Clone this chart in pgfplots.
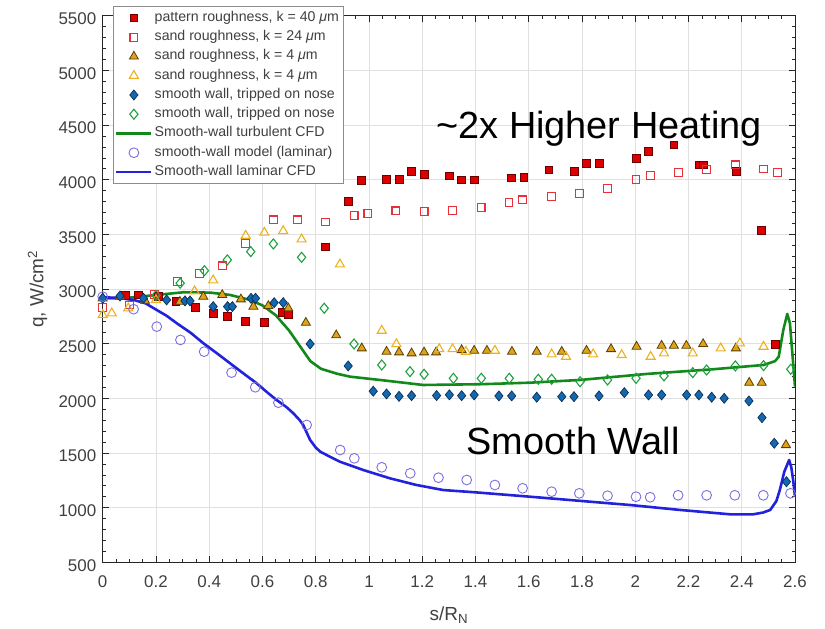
\documentclass[border=0pt]{standalone}
\usepackage{pgfplots}
\pgfplotsset{compat=1.18}
\usepackage{pgfplotstable}
\usepackage{fontspec}
\setmainfont{Liberation Sans}
\definecolor{axgray}{HTML}{262626}
\definecolor{labgray}{HTML}{404040}
\definecolor{gridgray}{HTML}{E0E0E0}
\definecolor{legframe}{HTML}{8C8C8C}
\definecolor{redfill}{HTML}{DC0000}
\definecolor{rededge}{HTML}{6B0000}
\definecolor{redopen}{HTML}{E8303A}
\definecolor{orfill}{HTML}{E0A21A}
\definecolor{oredge}{HTML}{5A4000}
\definecolor{yelopen}{HTML}{EDB120}
\definecolor{bluefill}{HTML}{1468B0}
\definecolor{blueedge}{HTML}{0A2F55}
\definecolor{greenopen}{HTML}{20A040}
\definecolor{greenline}{HTML}{12891A}
\definecolor{circcol}{HTML}{7B6FE0}
\definecolor{blueline}{HTML}{2222DD}

\pgfplotstableread{
s q
0.084 2939
0.134 2946
0.209 2930
0.275 2884
0.347 2829
0.415 2778
0.468 2747
0.537 2701
0.606 2692
0.676 2787
0.697 2769
0.835 3385
0.922 3799
0.973 3991
1.064 4004
1.113 4004
1.160 4074
1.207 4050
1.302 4034
1.347 3998
1.395 3998
1.536 4016
1.582 4022
1.676 4089
1.770 4074
1.817 4151
1.864 4151
2.005 4196
2.050 4260
2.145 4318
2.240 4135
2.256 4135
2.381 4074
2.475 3534
2.526 2494
}\patternrough

\pgfplotstableread{
s q
0.000 2829
0.100 2854
0.195 2950
0.280 3067
0.363 3144
0.451 3211
0.537 3418
0.641 3632
0.731 3632
0.836 3613
0.944 3675
0.996 3693
1.101 3714
1.207 3708
1.314 3717
1.421 3748
1.526 3794
1.577 3815
1.686 3845
1.790 3876
1.896 3922
2.003 4004
2.058 4037
2.163 4065
2.268 4096
2.376 4135
2.482 4098
2.533 4065
}\sandtwentyfour

\pgfplotstableread{
s q
0.000 2915
0.065 2930
0.159 2893
0.290 2884
0.378 2930
0.449 2946
0.519 2906
0.566 2839
0.622 2845
0.697 2824
0.763 2692
0.877 2577
0.973 2458
1.066 2427
1.113 2421
1.160 2412
1.207 2421
1.252 2421
1.348 2442
1.395 2436
1.443 2436
1.537 2427
1.630 2427
1.724 2427
1.817 2436
1.909 2451
2.005 2473
2.099 2482
2.145 2482
2.192 2482
2.255 2497
2.378 2458
2.428 2143
2.475 2143
2.566 1573
}\sandfourA

\pgfplotstableread{
s q
0.000 2763
0.034 2778
0.096 2824
0.200 2900
0.345 2980
0.415 3080
0.537 3488
0.607 3516
0.678 3531
0.747 3455
0.891 3226
1.048 2619
1.103 2497
1.264 2451
1.314 2451
1.364 2427
1.473 2436
1.686 2403
1.740 2381
1.842 2403
1.949 2397
2.058 2381
2.108 2412
2.216 2412
2.321 2458
2.393 2504
2.482 2473
}\sandfourB

\pgfplotstableread{
s q
0.000 2915
0.065 2936
0.153 2915
0.240 2900
0.309 2891
0.328 2891
0.415 2839
0.469 2839
0.487 2839
0.557 2915
0.574 2915
0.644 2875
0.678 2875
0.779 2497
0.922 2296
1.016 2065
1.066 2040
1.113 2018
1.160 2024
1.254 2025
1.302 2032
1.348 2024
1.395 2031
1.488 2022
1.536 2022
1.630 2010
1.724 2015
1.770 2015
1.864 2022
1.959 2052
2.050 2031
2.099 2031
2.193 2031
2.239 2031
2.287 2010
2.334 2000
2.427 1976
2.476 1823
2.522 1589
2.568 1237
}\smoothA

\pgfplotstableread{
s q
0.200 2940
0.291 3053
0.382 3168
0.468 3266
0.556 3342
0.641 3412
0.747 3290
0.832 2824
0.944 2497
1.048 2305
1.154 2244
1.207 2220
1.317 2183
1.422 2183
1.527 2183
1.636 2174
1.686 2174
1.793 2152
1.896 2168
2.003 2183
2.108 2205
2.216 2235
2.268 2259
2.376 2296
2.482 2299
2.584 2266
}\smoothB

\pgfplotstableread{
s q
0.000 2915
0.077 2915
0.203 2946
0.303 2970
0.403 2967
0.478 2946
0.553 2900
0.600 2850
0.650 2760
0.700 2620
0.740 2480
0.780 2340
0.820 2270
0.880 2225
0.929 2198
1.041 2168
1.204 2122
1.417 2129
1.605 2143
1.793 2168
2.043 2223
2.293 2266
2.482 2305
2.525 2340
2.539 2381
2.556 2625
2.571 2772
2.581 2687
2.593 2321
2.600 2107
}\turbcfd

\pgfplotstableread{
s q
0.000 2930
0.116 2815
0.203 2656
0.292 2534
0.381 2427
0.484 2235
0.573 2101
0.660 1960
0.766 1756
0.892 1527
0.945 1451
1.048 1369
1.155 1314
1.261 1274
1.367 1253
1.473 1207
1.577 1177
1.686 1146
1.790 1131
1.896 1109
2.003 1100
2.056 1095
2.161 1113
2.268 1113
2.374 1113
2.481 1113
2.583 1131
}\lammodel

\pgfplotstableread{
s q
0.000 2924
0.050 2920
0.116 2900
0.160 2870
0.203 2808
0.240 2755
0.278 2687
0.330 2600
0.378 2504
0.430 2410
0.478 2321
0.530 2225
0.578 2138
0.620 2050
0.653 1985
0.690 1920
0.716 1863
0.740 1800
0.753 1756
0.779 1619
0.800 1550
0.817 1512
0.850 1470
0.891 1420
0.979 1344
1.079 1268
1.179 1207
1.279 1161
1.400 1140
1.605 1100
1.793 1062
1.981 1024
2.168 979
2.356 939
2.443 939
2.480 955
2.507 979
2.530 1060
2.543 1161
2.560 1330
2.578 1436
2.586 1370
2.593 1253
2.600 1100
}\lamcfd

\begin{document}
\begin{tikzpicture}
\begin{axis}[
  scale only axis,
  width=692.3bp, height=546.6bp,
  xmin=0, xmax=2.6, ymin=500, ymax=5500,
  xtick={0,0.2,0.4,0.6,0.8,1,1.2,1.4,1.6,1.8,2,2.2,2.4,2.6},
  ytick={500,1000,1500,2000,2500,3000,3500,4000,4500,5000,5500},
  minor x tick num=3, minor y tick num=4,
  tick pos=both, xticklabel pos=lower, yticklabel pos=left,
  tick align=inside,
  major tick length=6bp, minor tick length=3.5bp,
  every tick/.style={color=axgray, line width=0.6bp},
  grid=major, major grid style={color=gridgray, line width=0.6bp},
  axis line style={color=axgray, line width=0.8bp},
  scaled ticks=false,
  /pgf/number format/assume math mode=true,
  /pgf/number format/1000 sep={},
  ticklabel style={font=\fontsize{17}{20}\selectfont, text=labgray},
  xticklabel style={yshift=-10bp},
  yticklabel style={xshift=-3bp, yshift=-3bp},
  xlabel={s/R\textsubscript{N}},
  ylabel={q, W/cm\textsuperscript{2}},
  xlabel style={at={(rel axis cs:0.5,-0.1056)}, anchor=base, font=\fontsize{19}{22}\selectfont, text=labgray},
  ylabel style={at={(rel axis cs:-0.0858,0.5)}, anchor=base, font=\fontsize{19}{22}\selectfont, text=labgray},
  legend cell align=left,
  legend style={at={(rel axis cs:0.01444,1.0178)}, anchor=north west,
    draw=legframe, line width=0.8bp, fill=white, text=labgray,
    font=\fontsize{14.2}{16}\selectfont,
    inner xsep=2bp, inner ysep=2bp, row sep=0pt,
    nodes={inner sep=2bp, text height=11bp, text depth=4.25bp}},
  legend image code/.code={\draw[mark repeat=2,mark phase=2,#1] plot coordinates {(0bp,0bp) (17.5bp,0bp) (35bp,0bp)};},
]
\addplot[color=rededge, only marks, mark=square*, mark size=3.9bp, mark options={fill=redfill, draw=rededge, line width=0.8bp}] table {\patternrough};
\addlegendentry{pattern roughness, k = 40 {\itshape μ}m}
\addplot[color=redopen, only marks, mark=square, mark size=3.9bp, mark options={draw=redopen, fill=none, line width=1.1bp}] table {\sandtwentyfour};
\addlegendentry{sand roughness, k = 24 {\itshape μ}m}
\addplot[color=oredge, only marks, mark=triangle*, mark size=5.2bp, mark options={fill=orfill, draw=oredge, line width=0.8bp}] table {\sandfourA};
\addlegendentry{sand roughness, k = 4 {\itshape μ}m}
\addplot[color=yelopen, only marks, mark=triangle, mark size=5.2bp, mark options={draw=yelopen, fill=none, line width=1.1bp}] table {\sandfourB};
\addlegendentry{sand roughness, k = 4 {\itshape μ}m}
\addplot[color=blueedge, only marks, mark=diamond*, mark size=5bp, mark options={xscale=1.1, fill=bluefill, draw=blueedge, line width=0.7bp}] table {\smoothA};
\addlegendentry{smooth wall, tripped on nose}
\addplot[color=greenopen, only marks, mark=diamond, mark size=5bp, mark options={xscale=1.1, draw=greenopen, fill=none, line width=1.1bp}] table {\smoothB};
\addlegendentry{smooth wall, tripped on nose}
\addplot[no marks, color=greenline, line width=2.6bp, line join=round] table {\turbcfd};
\addlegendentry{Smooth-wall turbulent CFD}
\addplot[color=circcol, only marks, mark=o, mark size=4.9bp, mark options={draw=circcol, fill=none, line width=0.9bp}] table {\lammodel};
\addlegendentry{smooth-wall model (laminar)}
\addplot[no marks, color=blueline, line width=2.6bp, line join=round] table {\lamcfd};
\addlegendentry{Smooth-wall laminar CFD}
\node[font=\fontsize{38}{42}\selectfont, anchor=base, text=black] at (axis cs:1.864,4379) {\textasciitilde 2x Higher Heating};
\node[font=\fontsize{38}{42}\selectfont, anchor=base, text=black] at (axis cs:1.767,1482) {Smooth Wall};
\coordinate (BL) at (rel axis cs:0,0);
\coordinate (TR) at (rel axis cs:1,1);
\end{axis}
\path (BL) ++(-102.7bp,-66.7bp) coordinate (A);
\path (TR) ++(30bp,15.7bp) coordinate (B);
\pgfresetboundingbox
\path (A) rectangle (B);
\end{tikzpicture}
\end{document}
